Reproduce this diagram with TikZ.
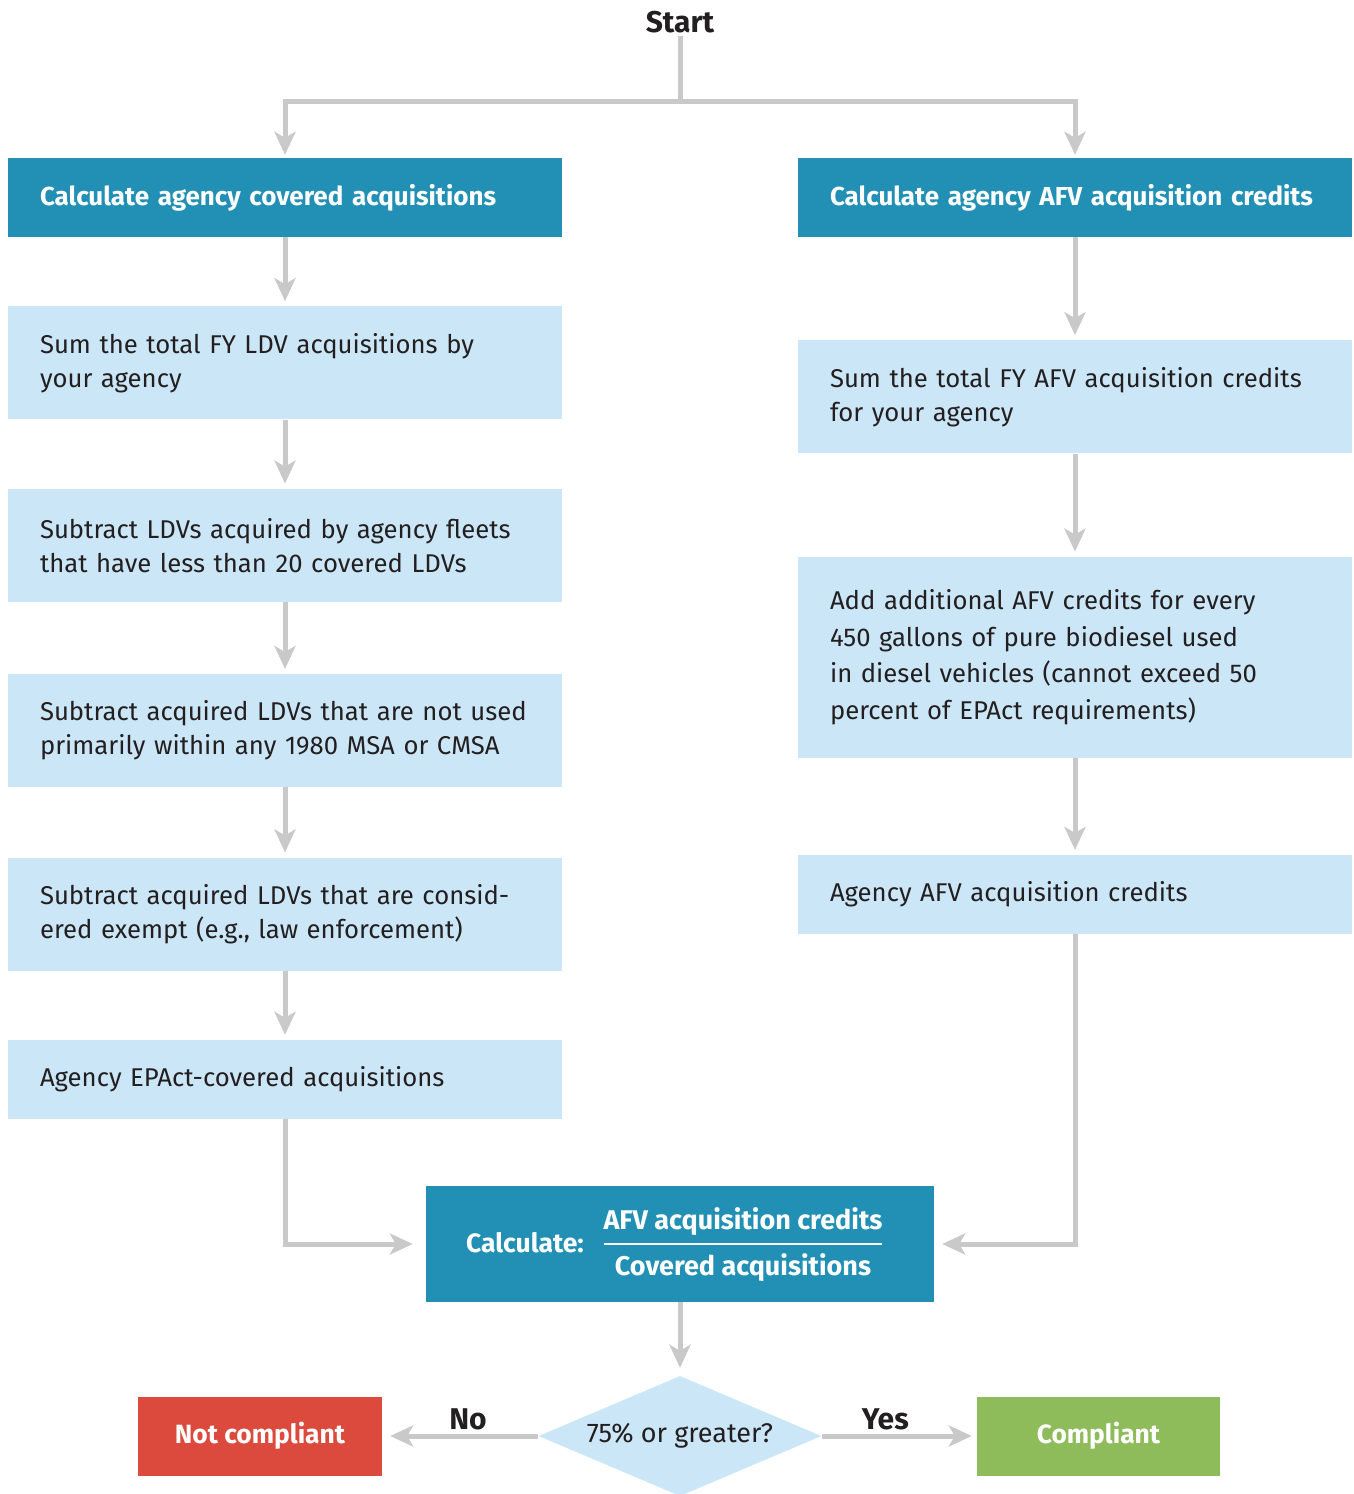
\documentclass[tikz,border=0pt]{standalone}
\usepackage{fontspec}
\setmainfont{Fira Sans}
\usetikzlibrary{arrows.meta,positioning,shapes.geometric}
\definecolor{darkblue}{RGB}{34,144,181}
\definecolor{lightblue}{RGB}{203,230,247}
\definecolor{notred}{RGB}{220,74,61}
\definecolor{okgreen}{RGB}{143,188,91}
\definecolor{linegray}{RGB}{201,201,201}
\definecolor{textdark}{RGB}{35,31,32}
\tikzset{>={Stealth[length=23pt,width=21pt,inset=6pt]},node distance=69pt}
\tikzset{
  head/.style={fill=darkblue,text=white,font=\fontsize{26}{34}\selectfont\bfseries,
    minimum width=554pt,minimum height=79pt,text width=490pt,inner xsep=32pt,align=left},
  stepbox/.style={fill=lightblue,text=textdark,font=\fontsize{25.7}{34}\selectfont,
    minimum width=554pt,minimum height=113pt,text width=490pt,inner xsep=32pt,align=left},
  flow/.style={draw=linegray,line width=5pt,->,shorten >=5pt},
  plain/.style={draw=linegray,line width=5pt}
}

\begin{document}
\begin{tikzpicture}[x=1pt,y=-1pt]
  \useasboundingbox (0,0) rectangle (1354,1494);

  \node[font=\fontsize{30}{34}\selectfont\bfseries,text=textdark] (start) at (680,22) {Start};
  \coordinate (split) at (680,101);

  % left column
  \node[head] (h1) at (285,197.5) {Calculate agency covered acquisitions};
  \node[stepbox] (b2) [below=of h1] {Sum the total FY LDV acquisitions by\\your agency};
  \node[stepbox] (b3) [below=of b2] {Subtract LDVs acquired by agency fleets\\that have less than 20 covered LDVs};
  \node[stepbox] (b4) [below=72pt of b3] {Subtract acquired LDVs that are not used\\primarily within any 1980 MSA or CMSA};
  \node[stepbox] (b5) [below=70pt of b4] {Subtract acquired LDVs that are consid-\\ered exempt (e.g., law enforcement)};
  \node[stepbox,minimum height=79pt] (b6) [below=of b5] {Agency EPAct-covered acquisitions};

  % right column
  \node[head] (h2) at (1075,197.5) {Calculate agency AFV acquisition credits};
  \node[stepbox] (r2) [below=103pt of h2] {Sum the total FY AFV acquisition credits\\for your agency};
  \node[stepbox,minimum height=201pt,font=\fontsize{25.7}{36.6}\selectfont] (r3) [below=103pt of r2]
    {Add additional AFV credits for every\\450 gallons of pure biodiesel used\\in diesel vehicles (cannot exceed 50\\percent of EPAct requirements)};
  \node[stepbox,minimum height=79pt] (r4) [below=97pt of r3] {Agency AFV acquisition credits};

  % ratio
  \node[fill=darkblue,minimum width=508pt,minimum height=116pt] (calc) at (680,1244) {};
  \node[text=white,font=\fontsize{26.5}{34}\selectfont\bfseries] (calclbl) at (525,1243) {Calculate:};
  \node[text=white,font=\fontsize{27}{34}\selectfont\bfseries] (num) at (743,1222) {AFV acquisition credits};
  \node[text=white,font=\fontsize{27}{34}\selectfont\bfseries] (den) at (743,1268) {Covered acquisitions};
  \draw[white,line width=1.5pt] (604,1244) -- (882,1244);

  % decision
  \node[diamond,aspect=2.4,fill=lightblue,minimum width=283pt,minimum height=120pt,inner sep=0pt,
    text=textdark,font=\fontsize{27}{34}\selectfont] (dec) at (680,1436) {75\% or greater?};
  \node[fill=notred,text=white,font=\fontsize{26.4}{34}\selectfont\bfseries,
    minimum width=244pt,minimum height=79pt] (nc) at (260,1436) {Not compliant};
  \node[fill=okgreen,text=white,font=\fontsize{26.4}{34}\selectfont\bfseries,
    minimum width=243pt,minimum height=79pt] (ok) at (1098.5,1436) {Compliant};

  % connectors
  \draw[plain] (start) -- (split);
  \draw[flow,shorten >=3pt] (split) -| (h1);
  \draw[flow,shorten >=3pt] (split) -| (h2);
  \foreach \a/\b in {h1/b2,b2/b3,b3/b4,b4/b5,b5/b6,h2/r2,r2/r3,r3/r4}
    \draw[flow] (\a) -- (\b);
  \draw[flow,shorten >=13pt] (b6.south) |- (calc.west);
  \draw[flow,shorten >=8pt] (r4.south) |- (calc.east);
  \draw[flow,shorten >=8pt] (calc) -- (dec);
  \draw[flow,shorten >=8pt] (dec.west) -- node[above,pos=0.45,text=textdark,
    font=\fontsize{30}{34}\selectfont\bfseries] {No} (nc.east);
  \draw[flow] (dec.east) -- node[above,pos=0.41,text=textdark,
    font=\fontsize{30}{34}\selectfont\bfseries] {Yes} (ok.west);
\end{tikzpicture}
\end{document}
